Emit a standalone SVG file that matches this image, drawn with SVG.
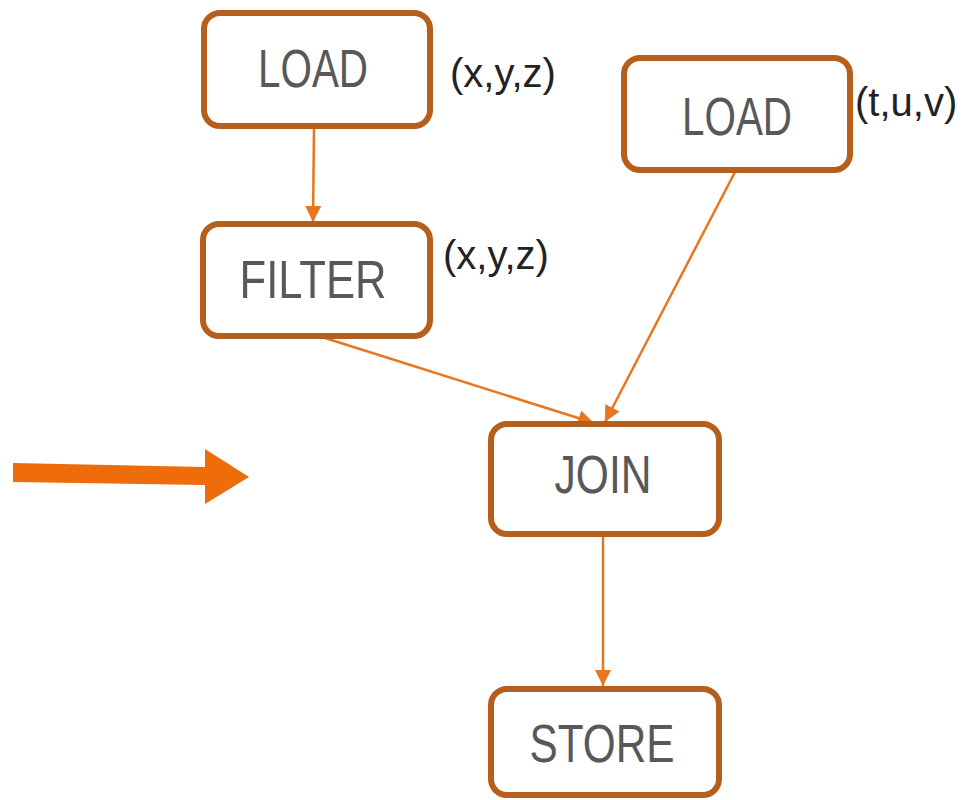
<svg xmlns="http://www.w3.org/2000/svg" width="969" height="800" viewBox="0 0 969 800">
<style>
.box{fill:#fff;stroke:#B65E1C;stroke-width:6}
.lbl{font-family:"Liberation Sans",Arial,sans-serif;font-size:54px;fill:#585858;text-anchor:middle}
.tup{font-family:"Liberation Sans",Arial,sans-serif;font-size:40px;fill:#222}
.conn{stroke:#E7761F;stroke-width:2.5;fill:none;marker-end:url(#ah)}
</style>
<defs>
<marker id="ah" viewBox="0 0 16 20" refX="16" refY="8" markerWidth="16" markerHeight="20" markerUnits="userSpaceOnUse" orient="auto">
<path d="M0,0 L16,8 L0,16 Z" fill="#E7761F"/>
</marker>
</defs>
<rect width="969" height="800" fill="#fff"/>
<g id="connectors">
<line class="conn" x1="314" y1="127" x2="313" y2="222"/>
<line class="conn" x1="325" y1="338" x2="594" y2="423"/>
<line class="conn" x1="735" y1="172" x2="605" y2="422"/>
<line class="conn" x1="603" y1="537" x2="603" y2="686"/>
</g>
<g id="bigarrow">
<polygon points="13,463 205,467 205,449 249,477 205,504 205,485 13,482" fill="#EE6C0A"/>
</g>
<g id="load1">
<rect class="box" x="204" y="13" width="226" height="113" rx="16"/>
<text class="lbl" x="313" y="87" textLength="110" lengthAdjust="spacingAndGlyphs">LOAD</text>
</g>
<text class="tup" x="450" y="87">(x,y,z)</text>
<g id="load2">
<rect class="box" x="624" y="58" width="226" height="112" rx="16"/>
<text class="lbl" x="737" y="135" textLength="110" lengthAdjust="spacingAndGlyphs">LOAD</text>
</g>
<text class="tup" x="855" y="116">(t,u,v)</text>
<g id="filter">
<rect class="box" x="203" y="224" width="227" height="112" rx="16"/>
<text class="lbl" x="313" y="298" textLength="147" lengthAdjust="spacingAndGlyphs">FILTER</text>
</g>
<text class="tup" x="443" y="269">(x,y,z)</text>
<g id="join">
<rect class="box" x="491" y="424" width="228" height="110" rx="16"/>
<text class="lbl" x="603" y="493" textLength="97" lengthAdjust="spacingAndGlyphs">JOIN</text>
</g>
<g id="store">
<rect class="box" x="491" y="689" width="228" height="106" rx="16"/>
<text class="lbl" x="602" y="762" textLength="145" lengthAdjust="spacingAndGlyphs">STORE</text>
</g>
</svg>
